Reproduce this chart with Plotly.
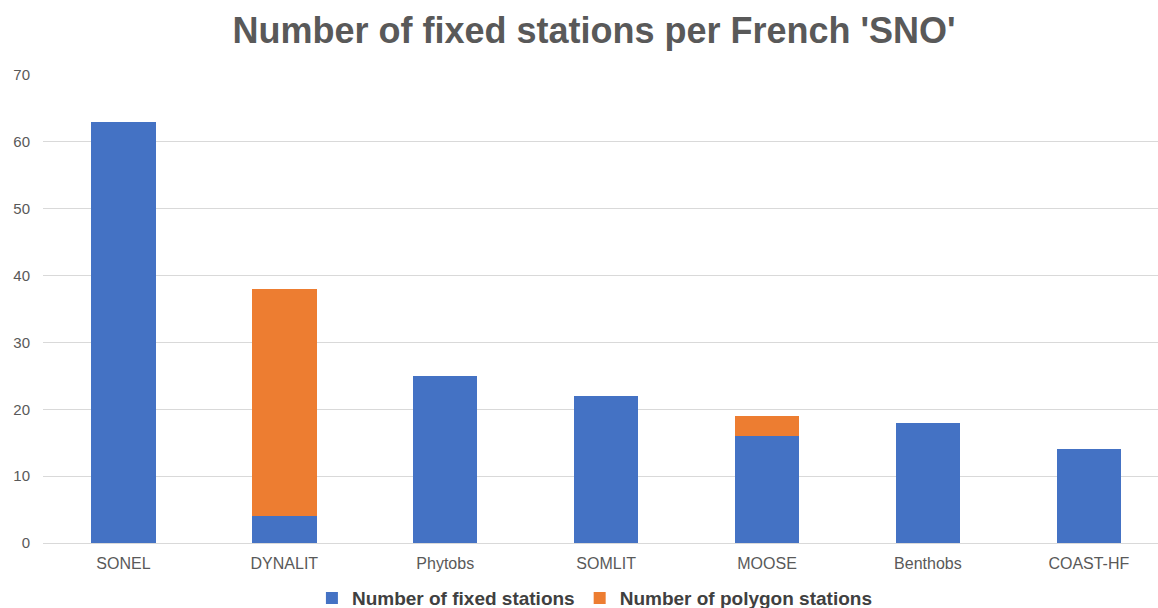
import plotly.graph_objects as go

categories = ["SONEL", "DYNALIT", "Phytobs", "SOMLIT", "MOOSE", "Benthobs", "COAST-HF"]
fixed_stations = [63, 4, 25, 22, 16, 18, 14]
polygon_stations = [0, 34, 0, 0, 3, 0, 0]
y_ticks = [0, 10, 20, 30, 40, 50, 60, 70]

fig = go.Figure()
fig.add_trace(go.Bar(x=categories, y=fixed_stations, name="Number of fixed stations",
                     marker=dict(color="#4472C4", line=dict(width=0))))
fig.add_trace(go.Bar(x=categories, y=polygon_stations, name="Number of polygon stations",
                     marker=dict(color="#ED7D31", line=dict(width=0))))

fig.update_layout(
    barmode="stack",
    bargap=0.6,
    width=1158, height=608,
    margin=dict(l=43, r=0, t=75, b=65, autoexpand=False),
    paper_bgcolor="white", plot_bgcolor="white",
    font=dict(family="Liberation Sans, Arial, sans-serif", color="#595959"),
    title=dict(text="<b>Number of fixed stations per French 'SNO'</b>",
               x=0.513, xanchor="center", y=0.95, yanchor="middle",
               font=dict(size=36, color="#595959")),
    xaxis=dict(range=[-0.5, 6.43], showgrid=False, showline=False, ticks="",
               tickfont=dict(size=16, color="#595959"), ticklabelstandoff=9),
    yaxis=dict(range=[0, 70], tickvals=y_ticks, showgrid=True, gridcolor="#D9D9D9",
               gridwidth=1, zeroline=True, zerolinecolor="#D9D9D9", zerolinewidth=1,
               tickfont=dict(size=15, color="#595959"), ticklabelstandoff=12),
    legend=dict(orientation="h", x=0.495, xanchor="center", y=-0.118, yanchor="middle",
                font=dict(size=19, color="#404040", weight="bold"), traceorder="normal",
                itemwidth=30),
    showlegend=True,
)

fig.write_html("out.html")
